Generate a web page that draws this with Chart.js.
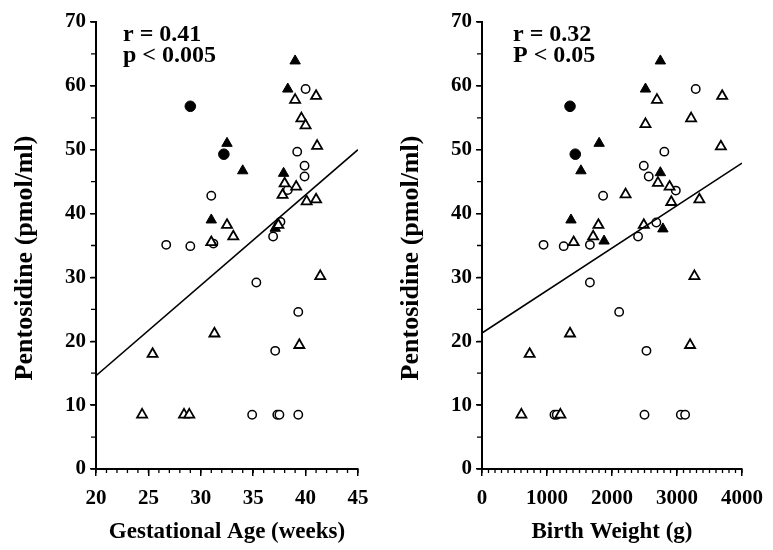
<!DOCTYPE html>
<html>
<head>
<meta charset="utf-8">
<script src="https://cdn.jsdelivr.net/npm/chart.js@4.4.1/dist/chart.umd.min.js"></script>
<style>
  body { margin: 0; background: #fff; }
  #wrap { display: flex; width: 773px; height: 550px; }
  .box { position: relative; height: 550px; }
</style>
</head>
<body>
<div id="wrap">
  <div class="box" style="width:386px"><canvas id="ageChart"></canvas></div>
  <div class="box" style="width:387px"><canvas id="weightChart"></canvas></div>
</div>
<script>
// left panel: gestational age (weeks) vs pentosidine (pmol/ml)
var ageOpenCircles = [[40.0,59.5],[39.2,49.7],[39.9,47.5],[39.9,45.8],[38.3,43.7],[31.0,42.8],[37.6,38.7],[36.9,36.4],[26.7,35.1],[29.0,34.9],[31.2,35.3],[35.3,29.2],[39.3,24.6],[37.1,18.5],[34.9,8.5],[37.3,8.5],[37.5,8.5],[39.3,8.5]];
var ageFilledCircles = [[29.0,56.8],[32.2,49.3]];
var ageOpenTriangles = [[39.0,57.8],[41.0,58.4],[39.6,54.9],[40.0,53.8],[41.1,50.6],[38.0,44.7],[39.1,44.2],[37.8,42.9],[40.1,41.9],[41.0,42.2],[37.4,38.2],[32.5,38.2],[33.1,36.4],[31.0,35.5],[41.4,30.2],[31.3,21.2],[25.4,18.0],[39.4,19.4],[24.4,8.5],[28.4,8.5],[28.9,8.5]];
var ageFilledTriangles = [[39.0,63.9],[38.3,59.5],[32.5,51.0],[34.0,46.7],[37.9,46.3],[31.0,39.0],[37.1,37.7]];
var ageFit = [[20,14.6],[45,50.0]];
var ageStats = ['r = 0.41', 'p < 0.005'];

// right panel: birth weight (g) vs pentosidine (pmol/ml)
var weightOpenCircles = [[3288,59.5],[2805,49.7],[2489,47.5],[2565,45.8],[2982,43.6],[1863,42.8],[2682,38.6],[2401,36.4],[947,35.1],[1257,34.9],[1660,35.1],[1660,29.2],[2110,24.6],[2530,18.5],[1115,8.5],[1150,8.5],[2500,8.5],[3059,8.5],[3125,8.5]];
var weightFilledCircles = [[1354,56.8],[1435,49.3]];
var weightOpenTriangles = [[2692,57.8],[3695,58.4],[2515,54.0],[3217,54.9],[3675,50.5],[2707,44.8],[2886,44.2],[2209,43.0],[2912,41.8],[3344,42.2],[2489,38.2],[1791,38.2],[1710,36.4],[1410,35.5],[3268,30.2],[1354,21.2],[733,18.0],[3201,19.4],[606,8.5],[1206,8.5]];
var weightFilledTriangles = [[2744,63.9],[2515,59.5],[1802,51.0],[1522,46.7],[2744,46.4],[1369,39.0],[1878,35.7],[2783,37.6]];
var weightFit = [[0,21.3],[4000,47.9]];
var weightStats = ['r = 0.32', 'P < 0.05'];

var yTitle = 'Pentosidine (pmol/ml)';
var serif = 'Liberation Serif';

function pts(list) {
  return list.map(function (p) { return { x: p[0], y: p[1] }; });
}

// small in-between ticks on both axes
var minorTicks = {
  id: 'minorTicks',
  afterDraw: function (chart, args, o) {
    var ctx = chart.ctx, xs = chart.scales.x, ys = chart.scales.y;
    ctx.save();
    ctx.strokeStyle = '#000';
    ctx.lineWidth = 1.3;
    ctx.beginPath();
    var n = Math.round((o.xMax - o.xMin) / o.xStep);
    for (var i = 0; i <= n; i++) {
      var px = xs.getPixelForValue(o.xMin + i * o.xStep);
      ctx.moveTo(px, xs.top);
      ctx.lineTo(px, xs.top + 4);
    }
    for (var j = 0; j <= 14; j++) {
      var py = ys.getPixelForValue(j * 5);
      ctx.moveTo(ys.right, py);
      ctx.lineTo(ys.right - 5, py);
    }
    ctx.stroke();
    ctx.restore();
  }
};

// r / p text and the rotated y title
var labels = {
  id: 'labels',
  afterDraw: function (chart, args, o) {
    var ctx = chart.ctx, a = chart.chartArea;
    ctx.save();
    ctx.fillStyle = '#000';
    ctx.font = 'bold 24px "' + serif + '"';
    ctx.textBaseline = 'alphabetic';
    ctx.fillText(o.lines[0], a.left + o.dx, a.top + 19);
    ctx.fillText(o.lines[1], a.left + o.dx, a.top + 40);
    ctx.translate(25, 258);
    ctx.rotate(-Math.PI / 2);
    ctx.font = 'bold 26px "' + serif + '"';
    ctx.textAlign = 'center';
    ctx.textBaseline = 'middle';
    ctx.fillText(yTitle, 0, 0);
    ctx.restore();
  }
};

function makeChart(id, d, xMin, xMax, xMajor, xMinor, xTitle, dx) {
  var ctx = document.getElementById(id).getContext('2d');
  return new Chart(ctx, {
    type: 'scatter',
    data: {
      datasets: [{
        type: 'line',
        data: pts(d.fit),
        borderColor: '#000',
        borderWidth: 1.6,
        pointRadius: 0,
        fill: false
      }, {
        data: pts(d.openTri),
        pointStyle: 'triangle',
        pointRadius: 5.8,
        backgroundColor: '#fff',
        borderColor: '#000',
        borderWidth: 1.8
      }, {
        data: pts(d.fillTri),
        pointStyle: 'triangle',
        pointRadius: 6,
        backgroundColor: '#000',
        borderColor: '#000',
        borderWidth: 1
      }, {
        data: pts(d.openCirc),
        pointStyle: 'circle',
        pointRadius: 4.2,
        backgroundColor: '#fff',
        borderColor: '#000',
        borderWidth: 1.5
      }, {
        data: pts(d.fillCirc),
        pointStyle: 'circle',
        pointRadius: 5.3,
        backgroundColor: '#000',
        borderColor: '#000',
        borderWidth: 1
      }]
    },
    options: {
      responsive: true,
      maintainAspectRatio: false,
      animation: false,
      layout: { padding: { top: 22, right: 28, left: 0, bottom: 0 } },
      plugins: {
        legend: { display: false },
        tooltip: { enabled: false },
        minorTicks: { xMin: xMin, xMax: xMax, xStep: xMinor },
        labels: { lines: d.stats, dx: dx }
      },
      scales: {
        x: {
          type: 'linear',
          min: xMin,
          max: xMax,
          afterFit: function (s) { s.height = 81; },
          ticks: {
            stepSize: xMajor,
            color: '#000',
            padding: 10,
            maxRotation: 0,
            callback: function (v) { return String(v); },
            font: { family: serif, size: 21, weight: 'bold' }
          },
          grid: { drawOnChartArea: false, tickLength: 7, color: '#000', lineWidth: 1.5 },
          border: { color: '#000', width: 2 },
          title: {
            display: true,
            text: xTitle,
            color: '#000',
            padding: { top: 0, bottom: 4 },
            font: { family: serif, size: 23, weight: 'bold' }
          }
        },
        y: {
          min: 0,
          max: 70,
          afterFit: function (s) { s.width = 96; },
          ticks: {
            stepSize: 10,
            color: '#000',
            padding: 4,
            font: { family: serif, size: 21, weight: 'bold' }
          },
          grid: { drawOnChartArea: false, tickLength: 6, color: '#000', lineWidth: 1.5 },
          border: { color: '#000', width: 2 }
        }
      }
    },
    plugins: [minorTicks, labels]
  });
}

makeChart('ageChart', {
  openCirc: ageOpenCircles, fillCirc: ageFilledCircles,
  openTri: ageOpenTriangles, fillTri: ageFilledTriangles,
  fit: ageFit, stats: ageStats
}, 20, 45, 5, 1, 'Gestational Age (weeks)', 27);

makeChart('weightChart', {
  openCirc: weightOpenCircles, fillCirc: weightFilledCircles,
  openTri: weightOpenTriangles, fillTri: weightFilledTriangles,
  fit: weightFit, stats: weightStats
}, 0, 4000, 1000, 100, 'Birth Weight (g)', 31);
</script>
</body>
</html>
